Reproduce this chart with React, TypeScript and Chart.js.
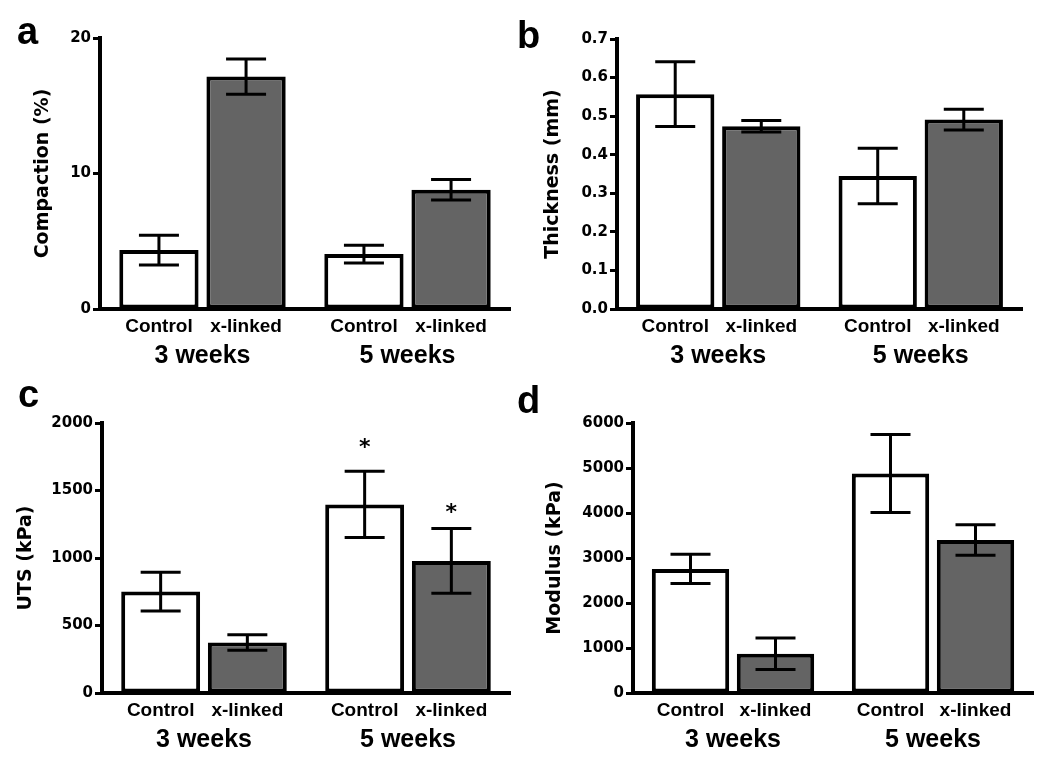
import React, { useEffect, useRef } from "react";
import { Chart, registerables } from "chart.js";

Chart.register(...registerables);

// ---------- data ----------
const categories = ["3 weeks", "5 weeks"];
const seriesNames = ["Control", "x-linked"];
const panelLetters = ["a", "b", "c", "d"];
const axisTitles = ["Compaction (%)", "Thickness (mm)", "UTS (kPa)", "Modulus (kPa)"];

const compactionControl = [4.35, 4.05];
const compactionControlErr = [1.1, 0.65];
const compactionXlinked = [17.15, 8.8];
const compactionXlinkedErr = [1.3, 0.75];

const thicknessControl = [0.557, 0.345];
const thicknessControlErr = [0.084, 0.072];
const thicknessXlinked = [0.474, 0.491];
const thicknessXlinkedErr = [0.015, 0.027];

const utsControl = [751, 1397];
const utsControlErr = [143, 245];
const utsXlinked = [374, 978];
const utsXlinkedErr = [58, 240];
// position (in kPa) of the significance asterisks, null = none
const utsControlStar = [null, 1870];
const utsXlinkedStar = [null, 1385];

const modulusControl = [2757, 4878];
const modulusControlErr = [325, 868];
const modulusXlinked = [872, 3400];
const modulusXlinkedErr = [350, 340];

const compactionTicks = { max: 20, step: 10, decimals: 0 };
const thicknessTicks = { max: 0.7, step: 0.1, decimals: 1 };
const utsTicks = { max: 2000, step: 500, decimals: 0 };
const modulusTicks = { max: 6000, step: 1000, decimals: 0 };

// ---------- styles / layout ----------
const CONTROL_FILL = "#ffffff";
const XLINKED_FILL = "#646464";
const TICK_FONT = "'DejaVu Sans', sans-serif";
const LABEL_FONT = "'Liberation Sans', Arial, sans-serif";

const layouts = [
  { left: 0, top: 0, width: 520, height: 380, yAxisWidth: 100, padTop: 38, padRight: 10, xAxisHeight: 71, titlePad: 32, letterX: 17, letterY: 44 },
  { left: 505, top: 0, width: 545, height: 380, yAxisWidth: 112, padTop: 39, padRight: 28, xAxisHeight: 71, titlePad: 37, letterX: 12, letterY: 48 },
  { left: 0, top: 380, width: 520, height: 391, yAxisWidth: 102, padTop: 43, padRight: 10, xAxisHeight: 78, titlePad: 14.6, letterX: 18, letterY: 27 },
  { left: 505, top: 380, width: 545, height: 391, yAxisWidth: 128, padTop: 43, padRight: 17, xAxisHeight: 78, titlePad: 38.6, letterX: 12, letterY: 33 },
];

type PanelData = {
  control: number[];
  controlErr: number[];
  xlinked: number[];
  xlinkedErr: number[];
  controlStar?: (number | null)[];
  xlinkedStar?: (number | null)[];
  ticks: { max: number; step: number; decimals: number };
};

const panels: PanelData[] = [
  { control: compactionControl, controlErr: compactionControlErr, xlinked: compactionXlinked, xlinkedErr: compactionXlinkedErr, ticks: compactionTicks },
  { control: thicknessControl, controlErr: thicknessControlErr, xlinked: thicknessXlinked, xlinkedErr: thicknessXlinkedErr, ticks: thicknessTicks },
  { control: utsControl, controlErr: utsControlErr, xlinked: utsXlinked, xlinkedErr: utsXlinkedErr, controlStar: utsControlStar, xlinkedStar: utsXlinkedStar, ticks: utsTicks },
  { control: modulusControl, controlErr: modulusControlErr, xlinked: modulusXlinked, xlinkedErr: modulusXlinkedErr, ticks: modulusTicks },
];

const overlayPlugin = {
  id: "overlay",
  afterDatasetsDraw(chart: any) {
    const ctx = chart.ctx;
    const y = chart.scales.y;
    ctx.save();
    ctx.strokeStyle = "#000";
    ctx.lineWidth = 3;
    ctx.lineCap = "butt";
    chart.data.datasets.forEach((ds: any, di: number) => {
      const meta = chart.getDatasetMeta(di);
      meta.data.forEach((bar: any, i: number) => {
        const v = ds.data[i];
        const e = ds.errors[i];
        const yt = y.getPixelForValue(v + e);
        const yb = y.getPixelForValue(v - e);
        const hw = 20;
        ctx.beginPath();
        ctx.moveTo(bar.x, yt);
        ctx.lineTo(bar.x, yb);
        ctx.moveTo(bar.x - hw, yt);
        ctx.lineTo(bar.x + hw, yt);
        ctx.moveTo(bar.x - hw, yb);
        ctx.lineTo(bar.x + hw, yb);
        ctx.stroke();
      });
    });
    ctx.restore();
  },
  afterDraw(chart: any, _args: any, opts: any) {
    const ctx = chart.ctx;
    const area = chart.chartArea;
    const x = chart.scales.x;
    const y = chart.scales.y;
    ctx.save();
    ctx.fillStyle = "#000";
    ctx.textAlign = "center";
    ctx.textBaseline = "alphabetic";
    // series labels under each bar
    ctx.font = `bold 19px ${LABEL_FONT}`;
    chart.data.datasets.forEach((ds: any, di: number) => {
      const meta = chart.getDatasetMeta(di);
      meta.data.forEach((bar: any) => {
        ctx.fillText(ds.label, bar.x, area.bottom + 23);
      });
    });
    // group labels
    ctx.font = `bold 25px ${LABEL_FONT}`;
    chart.data.labels.forEach((lab: string, i: number) => {
      ctx.fillText(lab, x.getPixelForValue(i), area.bottom + 54);
    });
    // significance asterisks
    ctx.font = `bold 22px ${TICK_FONT}`;
    chart.data.datasets.forEach((ds: any, di: number) => {
      if (!ds.stars) return;
      const meta = chart.getDatasetMeta(di);
      meta.data.forEach((bar: any, i: number) => {
        const s = ds.stars[i];
        if (s == null) return;
        ctx.fillText("*", bar.x, y.getPixelForValue(s) + 13);
      });
    });
    // panel letter
    ctx.textAlign = "left";
    ctx.font = `bold 38px ${LABEL_FONT}`;
    ctx.fillText(opts.letter, opts.letterX, opts.letterY);
    ctx.restore();
  },
};

function Panel({ index }: { index: number }) {
  const ref = useRef<HTMLCanvasElement | null>(null);
  const L = layouts[index];
  const P = panels[index];
  useEffect(() => {
    if (!ref.current) return;
    const chart = new Chart(ref.current, {
      type: "bar",
      data: {
        labels: categories,
        datasets: [
          {
            label: seriesNames[0],
            data: P.control,
            errors: P.controlErr,
            stars: P.controlStar,
            backgroundColor: CONTROL_FILL,
            borderColor: "#000",
            borderWidth: 4,
            borderSkipped: false,
            categoryPercentage: 0.85,
            barPercentage: 0.91,
          } as any,
          {
            label: seriesNames[1],
            data: P.xlinked,
            errors: P.xlinkedErr,
            stars: P.xlinkedStar,
            backgroundColor: XLINKED_FILL,
            borderColor: "#000",
            borderWidth: 4,
            borderSkipped: false,
            categoryPercentage: 0.85,
            barPercentage: 0.91,
          } as any,
        ],
      },
      options: {
        responsive: false,
        animation: false,
        devicePixelRatio: 1,
        layout: { padding: { top: L.padTop, right: L.padRight, left: 0, bottom: 0 } },
        plugins: {
          legend: { display: false },
          tooltip: { enabled: false },
          overlay: { letter: panelLetters[index], letterX: L.letterX, letterY: L.letterY },
        } as any,
        scales: {
          x: {
            grid: { display: false },
            border: { display: true, color: "#000", width: 4 },
            ticks: { display: false },
            afterFit: (s: any) => {
              s.height = L.xAxisHeight;
            },
          },
          y: {
            min: 0,
            max: P.ticks.max,
            grid: {
              display: true,
              drawOnChartArea: false,
              drawTicks: true,
              tickLength: 7,
              tickWidth: 3,
              tickColor: "#000",
            },
            border: { display: true, color: "#000", width: 4 },
            ticks: {
              stepSize: P.ticks.step,
              padding: 2,
              color: "#000",
              font: { family: TICK_FONT, size: 15, weight: "bold" },
              callback: (v: any) => Number(v).toFixed(P.ticks.decimals),
            },
            title: {
              display: true,
              text: axisTitles[index],
              color: "#000",
              font: { family: TICK_FONT, size: 19, weight: "bold" },
              padding: { top: L.titlePad, bottom: 0 },
            },
            afterFit: (s: any) => {
              s.width = L.yAxisWidth;
            },
          },
        },
      },
      plugins: [overlayPlugin],
    });
    return () => chart.destroy();
  }, []);
  return (
    <canvas
      ref={ref}
      width={L.width}
      height={L.height}
      style={{ position: "absolute", left: L.left, top: L.top, width: L.width, height: L.height }}
    />
  );
}

export default function App() {
  return (
    <div
      style={{
        position: "fixed",
        left: 0,
        top: 0,
        width: 1050,
        height: 771,
        background: "#fff",
        overflow: "hidden",
      }}
    >
      {[0, 1, 2, 3].map((i) => (
        <Panel key={i} index={i} />
      ))}
    </div>
  );
}
